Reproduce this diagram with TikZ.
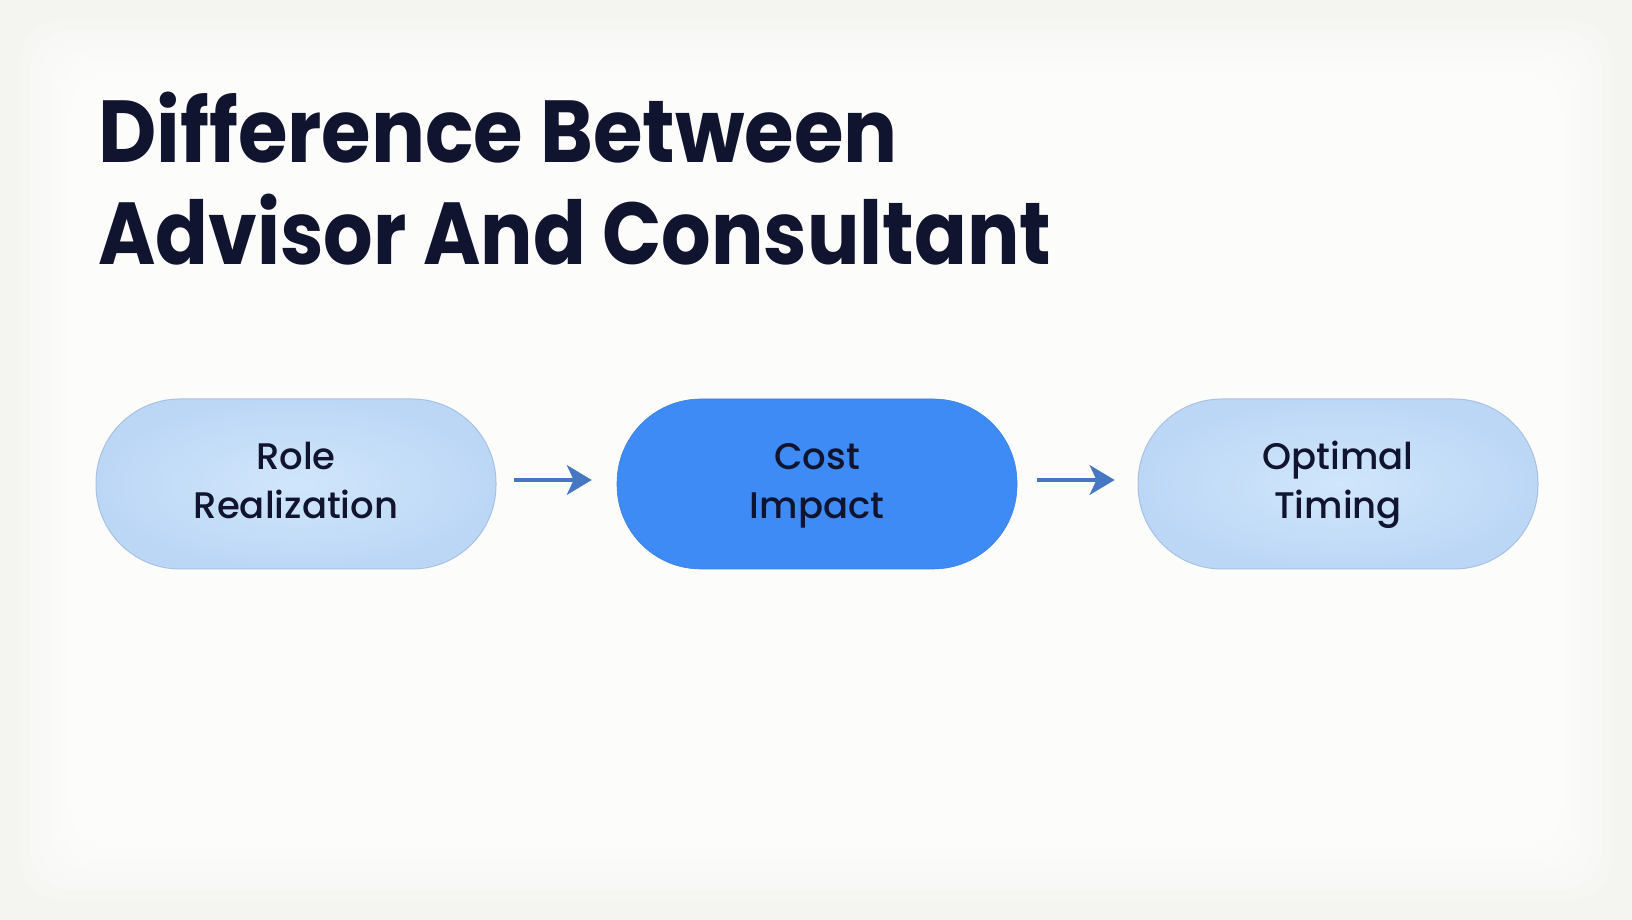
\documentclass[tikz,border=0pt]{standalone}
\usepackage{fontspec}
\setmainfont{Poppins}
\newfontfamily\medfont{Poppins}[UprightFont=* Medium]
\usetikzlibrary{arrows.meta}
\definecolor{bgc}{HTML}{F4F4F0}
\definecolor{inkc}{HTML}{10142E}
\definecolor{lightc}{HTML}{BCD7F6}
\definecolor{lightin}{HTML}{D0E6FB}
\definecolor{lightedge}{HTML}{A9C1E2}
\definecolor{darkc}{HTML}{3F8BF5}
\definecolor{arrowc}{HTML}{4677C2}
\tikzset{
  pill/.style={rectangle, rounded corners=84pt, minimum width=400pt, minimum height=170pt,
    align=center, text=inkc, font=\medfont\fontsize{37}{49}\selectfont, inner sep=0pt},
  lightpill/.style={pill, inner color=lightin, outer color=lightc, draw=lightedge, line width=1pt},
  darkpill/.style={pill, fill=darkc, draw=darkc!92!black, line width=0.6pt},
  titletext/.style={anchor=base west, text=inkc, font=\fontsize{88}{100}\selectfont\bfseries, inner sep=0pt},
  flow/.style={draw=arrowc, line width=4.5pt, -{Stealth[length=25pt,width=30pt,inset=7pt,fill=arrowc,line width=0.5pt]}}
}
\begin{document}
\begin{tikzpicture}[x=1pt,y=1pt]
\useasboundingbox (0,0) rectangle (1632,920);
\fill[bgc] (0,0) rectangle (1632,920);
\foreach \o in {20,30,40,50,60,70}
  \fill[white, opacity=0.25, rounded corners=40pt] (\o,\o) rectangle (1632-\o,920-\o);
\node[titletext] (t1) at (98,757) {\scalebox{0.912}[1]{Difference Between}};
\node[titletext] (t2) at (98,655) {\scalebox{0.885}[1]{Advisor And Consultant}};
\node[lightpill] (n1) at (296,436) {Role\strut\\Realization\strut};
\node[darkpill] (n2) at (817,436) {Cost\strut\\Impact\strut};
\node[lightpill] (n3) at (1338,436) {Optimal\strut\\Timing\strut};
\draw[flow] ([xshift=17pt,yshift=4pt]n1.east) -- ([xshift=-25pt,yshift=4pt]n2.west);
\draw[flow] ([xshift=20pt,yshift=4pt]n2.east) -- ([xshift=-23pt,yshift=4pt]n3.west);
\end{tikzpicture}
\end{document}
